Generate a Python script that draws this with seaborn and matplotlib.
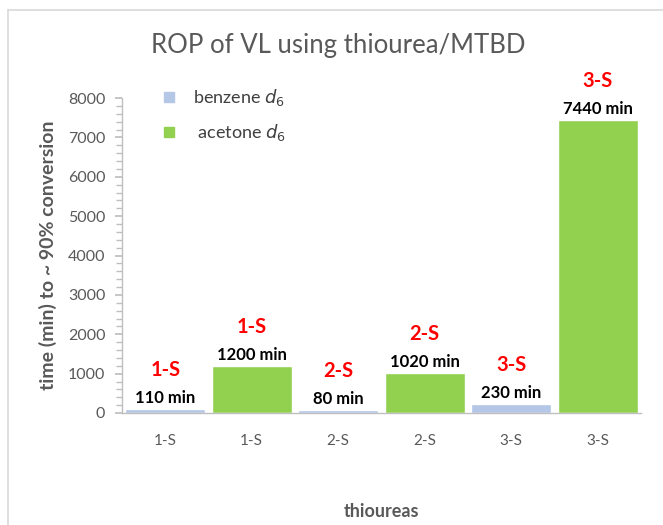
import matplotlib
matplotlib.use("Agg")
import matplotlib.pyplot as plt
import seaborn as sns
import pandas as pd
from matplotlib.lines import Line2D
from matplotlib.ticker import MultipleLocator

thioureas = ["1-S", "1-S", "2-S", "2-S", "3-S", "3-S"]
solvents = ["benzene", "acetone", "benzene", "acetone", "benzene", "acetone"]
times = [110, 1200, 80, 1020, 230, 7440]
value_labels = ["110 min", "1200 min", "80 min", "1020 min", "230 min", "7440 min"]
legend_labels = [r"benzene $d_6$", r" acetone $d_6$"]

sns.set_theme(style="white")
plt.rcParams["font.family"] = ["Lato", "DejaVu Sans"]

keys = [f"{t}#{i}" for i, t in enumerate(thioureas)]
df = pd.DataFrame({"key": keys, "thiourea": thioureas, "solvent": solvents, "time": times})
palette = {"benzene": "#b4c7e7", "acetone": "#92d050"}

fig = plt.figure(figsize=(6.63, 5.25), dpi=100)
ax = fig.add_axes([122 / 663, 112 / 525, 519 / 663, 315 / 525])
sns.barplot(data=df, x="key", y="time", hue="solvent", palette=palette,
            dodge=False, width=0.92, ax=ax, legend=False, saturation=1)

ax.set_ylim(0, 8000)
ax.set_xlim(-0.5, 5.5)
ax.yaxis.set_major_locator(MultipleLocator(1000))
ax.yaxis.set_minor_locator(MultipleLocator(200))
ax.tick_params(axis="y", which="both", direction="out", left=True, color="#bfbfbf",
               labelcolor="#595959", labelsize=11.5, pad=7)
ax.tick_params(axis="y", which="major", length=5)
ax.tick_params(axis="y", which="minor", length=4)
ax.tick_params(axis="x", bottom=False, labelcolor="#595959", labelsize=11, pad=9)
ax.set_xticks(range(len(thioureas)))
ax.set_xticklabels(thioureas)
for s in ["top", "right"]:
    ax.spines[s].set_visible(False)
for s in ["left", "bottom"]:
    ax.spines[s].set_color("#bfbfbf")
    ax.spines[s].set_linewidth(1)

ax.set_ylabel("time (min) to ~ 90% conversion", fontsize=14, fontweight="bold",
              color="#595959", labelpad=8)
ax.set_xlabel("thioureas", fontsize=13, fontweight="bold", color="#595959", labelpad=40)
fig.text(0.51, 1 - 45 / 525, "ROP of VL using thiourea/MTBD", ha="center", va="center",
         fontsize=18.5, color="#595959")

for i, (v, lab, t) in enumerate(zip(times, value_labels, thioureas)):
    ax.annotate(lab, (i, v), xytext=(0, 2), textcoords="offset points", ha="center",
                va="bottom", fontsize=12, fontweight="bold", color="black")
    ax.annotate(t, (i, v), xytext=(0, 21), textcoords="offset points", ha="center",
                va="bottom", fontsize=14.5, fontweight="bold", color="#ff0000")

handles = [Line2D([], [], marker="s", linestyle="", markersize=7,
                  markerfacecolor=palette[k], markeredgecolor=palette[k])
           for k in ["benzene", "acetone"]]
leg = ax.legend(handles, legend_labels, loc="upper left", bbox_to_anchor=(0.025, 1.085),
                frameon=False, fontsize=13, labelspacing=0.75, handletextpad=0.3,
                labelcolor="#404040")

fig.add_artist(Line2D([8 / 663, 8 / 663], [0, 1 - 10 / 525], color="#d9d9d9", lw=1.2))
fig.add_artist(Line2D([8 / 663, 1], [1 - 10 / 525, 1 - 10 / 525], color="#d9d9d9", lw=1.2))

fig.savefig("out.png", dpi=100)
